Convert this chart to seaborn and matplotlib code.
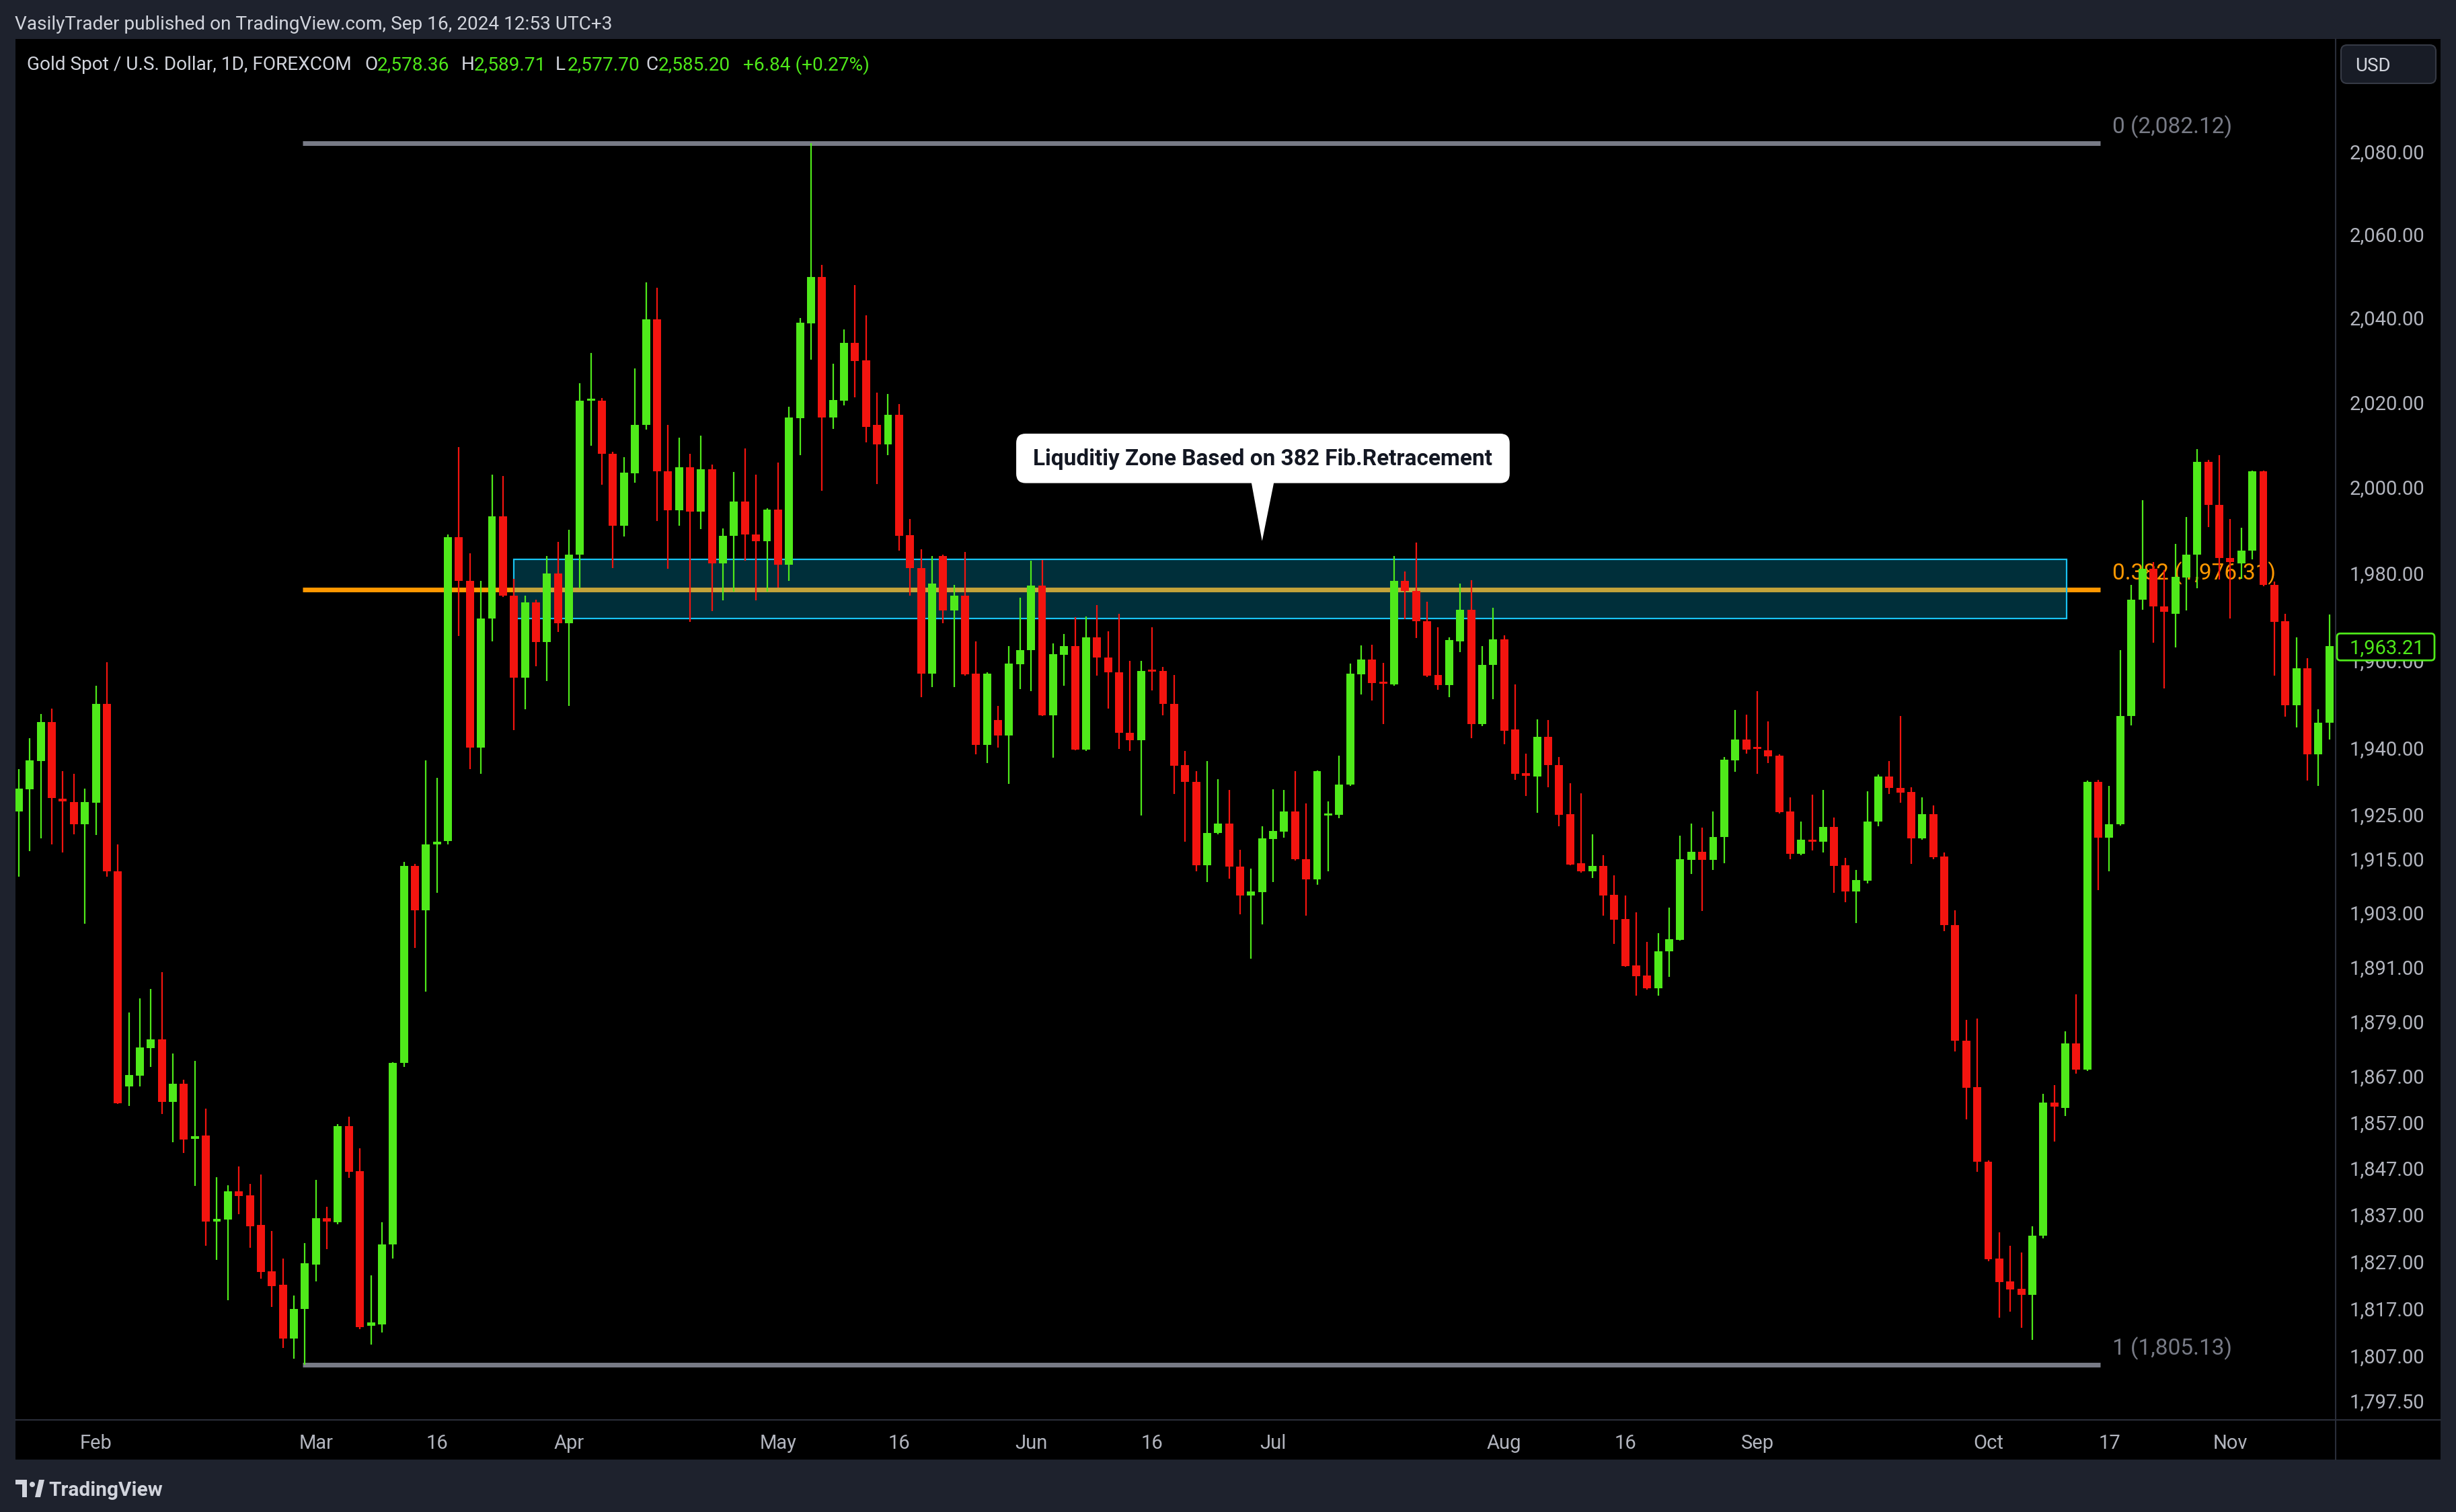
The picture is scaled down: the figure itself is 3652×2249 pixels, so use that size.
import numpy as np
import pandas as pd
import matplotlib
matplotlib.use("Agg")
import matplotlib.pyplot as plt
import seaborn as sns
from matplotlib.patches import Rectangle, FancyBboxPatch, Polygon, Circle
from matplotlib.ticker import FixedLocator, NullLocator, FuncFormatter
from matplotlib.lines import Line2D

# ---------------- data (Gold spot daily) ----------------
opens = [1925.7, 1930.6, 1937.0, 1945.9, 1928.5, 1927.8, 1922.8, 1927.7, 1950.1, 1912.3,
         1864.8, 1867.1, 1873.1, 1875.1, 1861.4, 1865.4, 1853.4, 1854.1, 1835.6, 1836.0,
         1842.1, 1841.2, 1834.8, 1824.9, 1822.0, 1810.6, 1816.9, 1826.4, 1836.3, 1835.4,
         1856.1, 1846.4, 1813.3, 1813.6, 1830.6, 1869.9, 1913.5, 1903.6, 1918.3, 1919.0,
         1988.4, 1978.3, 1940.1, 1969.6, 1993.3, 1974.8, 1956.0, 1973.3, 1964.2, 1980.0,
         1968.5, 1984.3, 2020.3, 2020.3, 2007.8, 1991.1, 2003.3, 2014.6, 2039.7, 2003.7,
         1994.7, 2004.7, 1994.4, 2004.3, 1982.3, 1988.7, 1996.7, 1989.1, 1987.5, 1994.8,
         1982.0, 2016.2, 2038.7, 2049.8, 2016.4, 2020.4, 2034.1, 2029.9, 2014.6, 2010.0,
         2017.0, 1988.8, 1981.3, 1957.0, 1984.0, 1971.4, 1974.9, 1957.0, 1940.7, 1946.3,
         1942.9, 1959.1, 1962.4, 1977.2, 1947.5, 1961.3, 1963.2, 1939.6, 1965.2, 1960.7,
         1957.2, 1943.5, 1941.7, 1957.8, 1957.6, 1950.0, 1936.1, 1932.4, 1913.6, 1920.8,
         1923.0, 1913.3, 1906.9, 1907.6, 1919.5, 1921.2, 1925.6, 1915.0, 1910.5, 1924.8,
         1924.9, 1931.7, 1956.8, 1960.2, 1955.1, 1954.5, 1978.3, 1976.0, 1969.0, 1956.6,
         1954.3, 1964.4, 1971.6, 1945.4, 1958.9, 1964.8, 1944.2, 1934.3, 1933.6, 1942.5,
         1936.2, 1925.0, 1914.0, 1912.2, 1913.5, 1907.0, 1901.6, 1891.3, 1889.1, 1886.3,
         1894.4, 1897.0, 1914.8, 1916.6, 1914.8, 1919.9, 1937.2, 1942.0, 1940.2, 1939.5,
         1938.2, 1925.6, 1916.1, 1919.3, 1918.8, 1922.2, 1913.6, 1907.7, 1910.2, 1923.4,
         1933.5, 1931.0, 1930.0, 1919.7, 1925.0, 1915.5, 1900.3, 1874.8, 1864.6, 1848.4,
         1827.7, 1822.7, 1821.2, 1819.9, 1832.5, 1861.2, 1860.1, 1874.1, 1868.5, 1932.3,
         1919.8, 1922.8, 1947.3, 1973.9, 1981.1, 1972.3, 1970.6, 1979.1, 1984.4, 2006.0,
         1995.9, 1983.6, 1982.3, 1985.3, 2003.7, 1977.4, 1968.9, 1949.8, 1958.2, 1938.6,
         1945.8]
highs = [1935.3, 1942.2, 1947.8, 1948.9, 1934.7, 1934.2, 1930.8, 1954.2, 1959.5, 1918.3,
         1881.0, 1884.1, 1886.1, 1889.9, 1871.9, 1866.3, 1870.4, 1860.0, 1845.1, 1843.4,
         1847.4, 1843.6, 1845.7, 1833.6, 1827.6, 1819.8, 1830.9, 1844.5, 1838.7, 1856.6,
         1858.2, 1851.4, 1824.0, 1835.4, 1870.0, 1914.3, 1913.9, 1937.2, 1933.2, 1989.0,
         2009.5, 1984.7, 1978.3, 2003.0, 2002.6, 1978.8, 1974.8, 1974.0, 1984.0, 1987.3,
         1990.1, 2024.5, 2031.7, 2021.0, 2008.3, 2007.1, 2028.0, 2048.5, 2047.2, 2014.7,
         2011.6, 2007.8, 2012.1, 2005.3, 1990.5, 2003.6, 2009.1, 2003.0, 1995.2, 2005.8,
         2019.0, 2040.0, 2082.1, 2052.7, 2029.1, 2037.2, 2047.8, 2040.7, 2022.2, 2022.0,
         2019.5, 1992.7, 1985.6, 1984.0, 1984.3, 1977.4, 1985.0, 1964.4, 1957.2, 1949.5,
         1963.2, 1974.4, 1982.9, 1983.1, 1963.8, 1966.0, 1969.9, 1970.1, 1972.7, 1966.7,
         1970.7, 1959.9, 1959.9, 1967.6, 1958.4, 1956.6, 1939.3, 1934.7, 1937.1, 1933.0,
         1930.5, 1917.0, 1912.8, 1922.4, 1930.6, 1930.5, 1934.7, 1927.5, 1934.9, 1928.0,
         1938.2, 1959.3, 1963.4, 1963.6, 1959.4, 1984.1, 1980.5, 1987.2, 1973.4, 1967.5,
         1965.3, 1977.7, 1978.5, 1963.3, 1972.1, 1965.7, 1954.5, 1938.7, 1946.5, 1946.4,
         1937.9, 1932.1, 1929.8, 1920.5, 1915.9, 1911.3, 1906.9, 1903.1, 1896.6, 1898.5,
         1904.2, 1920.2, 1923.0, 1922.1, 1925.7, 1937.9, 1948.7, 1947.6, 1953.0, 1946.0,
         1938.6, 1928.9, 1923.4, 1929.4, 1930.5, 1924.3, 1915.3, 1912.6, 1930.2, 1934.0,
         1937.1, 1947.2, 1931.2, 1928.8, 1927.0, 1916.5, 1903.6, 1879.4, 1879.6, 1848.7,
         1833.2, 1830.4, 1829.0, 1834.6, 1863.2, 1865.1, 1876.8, 1884.9, 1932.7, 1932.8,
         1931.4, 1962.4, 1977.4, 1997.0, 1982.6, 1980.7, 1986.9, 1993.1, 2009.0, 2006.5,
         2007.6, 1992.7, 1990.6, 2004.0, 2004.0, 1978.1, 1970.6, 1965.2, 1960.4, 1948.8,
         1970.5]
lows = [1911.1, 1916.8, 1919.6, 1918.3, 1916.4, 1920.5, 1900.5, 1920.4, 1911.0, 1860.9,
        1860.5, 1864.7, 1869.0, 1858.8, 1852.6, 1850.3, 1843.2, 1830.3, 1827.4, 1818.7,
        1837.1, 1830.0, 1823.3, 1817.4, 1808.6, 1806.4, 1805.13, 1822.8, 1829.7, 1835.0,
        1844.9, 1812.6, 1809.4, 1811.9, 1827.6, 1869.0, 1895.2, 1885.6, 1907.4, 1918.2,
        1965.6, 1935.2, 1934.1, 1964.4, 1974.5, 1944.0, 1948.8, 1958.6, 1955.2, 1966.5,
        1949.5, 1976.6, 2009.8, 2000.7, 1981.3, 1988.6, 2001.1, 2013.5, 1992.1, 1981.0,
        1991.1, 1968.8, 1990.3, 1971.3, 1973.8, 1975.8, 1983.0, 1973.8, 1975.8, 1976.7,
        1978.2, 2007.6, 2030.0, 1999.2, 2013.7, 2019.2, 2021.2, 2010.5, 2000.8, 2007.5,
        1985.2, 1974.8, 1951.6, 1953.8, 1968.5, 1953.9, 1956.4, 1938.5, 1936.6, 1940.1,
        1931.9, 1953.4, 1953.0, 1947.3, 1937.8, 1954.1, 1939.5, 1939.3, 1956.5, 1948.9,
        1939.8, 1939.4, 1924.7, 1953.1, 1947.5, 1929.6, 1918.8, 1912.2, 1909.9, 1920.6,
        1910.6, 1902.6, 1892.8, 1900.4, 1909.8, 1919.8, 1914.6, 1902.3, 1909.3, 1912.3,
        1924.2, 1931.5, 1952.2, 1950.8, 1945.5, 1954.2, 1969.5, 1965.1, 1956.2, 1953.2,
        1951.6, 1961.8, 1942.3, 1945.0, 1951.1, 1940.9, 1932.8, 1929.2, 1925.4, 1931.1,
        1922.4, 1913.6, 1911.9, 1910.7, 1902.4, 1896.1, 1891.0, 1884.7, 1886.0, 1884.6,
        1888.8, 1896.8, 1911.6, 1903.4, 1912.5, 1914.1, 1934.6, 1938.8, 1934.2, 1936.6,
        1925.2, 1914.9, 1915.8, 1916.9, 1916.5, 1907.4, 1905.4, 1900.7, 1909.6, 1922.4,
        1929.6, 1927.7, 1913.9, 1919.4, 1914.9, 1898.9, 1872.4, 1857.6, 1846.2, 1827.0,
        1815.1, 1816.4, 1812.9, 1810.4, 1832.0, 1852.8, 1858.4, 1867.6, 1868.2, 1908.1,
        1912.2, 1922.5, 1945.1, 1971.6, 1964.1, 1953.5, 1962.9, 1971.5, 1976.5, 1990.8,
        1978.6, 1969.6, 1978.7, 1983.2, 1977.0, 1956.5, 1947.1, 1944.6, 1932.7, 1931.5,
        1941.9]
closes = [1930.8, 1937.2, 1945.9, 1928.7, 1927.9, 1922.8, 1927.8, 1950.1, 1912.2, 1861.1,
          1867.2, 1873.3, 1875.1, 1861.4, 1865.4, 1853.2, 1854.0, 1835.5, 1836.1, 1842.1,
          1841.1, 1834.6, 1824.8, 1821.8, 1810.6, 1816.9, 1826.7, 1836.3, 1835.5, 1856.1,
          1846.3, 1813.1, 1814.0, 1830.6, 1869.9, 1913.5, 1903.6, 1918.3, 1918.9, 1988.4,
          1978.3, 1940.1, 1969.6, 1993.3, 1974.9, 1956.0, 1973.3, 1964.2, 1980.0, 1968.5,
          1984.3, 2020.3, 2020.8, 2007.8, 1991.1, 2003.4, 2014.6, 2039.7, 2003.7, 1994.7,
          2004.7, 1994.4, 2004.3, 1982.3, 1988.7, 1996.7, 1989.0, 1987.5, 1994.8, 1982.0,
          2016.4, 2038.9, 2049.8, 2016.4, 2020.6, 2034.1, 2029.8, 2014.2, 2010.0, 2017.0,
          1988.7, 1981.2, 1957.0, 1977.7, 1971.4, 1974.9, 1956.8, 1940.7, 1957.0, 1942.9,
          1959.2, 1962.4, 1977.2, 1947.5, 1961.4, 1963.2, 1939.6, 1965.2, 1960.7, 1957.2,
          1943.4, 1941.7, 1957.6, 1957.4, 1950.0, 1936.0, 1932.3, 1913.6, 1920.9, 1923.0,
          1913.3, 1906.9, 1907.8, 1919.6, 1921.3, 1925.6, 1915.0, 1910.5, 1934.7, 1925.2,
          1931.8, 1956.9, 1960.2, 1954.8, 1954.7, 1978.3, 1975.9, 1969.0, 1956.4, 1954.3,
          1964.6, 1971.6, 1945.4, 1958.9, 1964.8, 1943.9, 1934.2, 1933.7, 1942.5, 1936.1,
          1924.9, 1913.8, 1912.2, 1913.5, 1906.9, 1901.4, 1891.2, 1888.9, 1886.3, 1894.5,
          1897.1, 1914.9, 1916.6, 1914.8, 1920.0, 1937.3, 1942.0, 1939.7, 1939.8, 1938.1,
          1925.5, 1916.1, 1919.4, 1918.9, 1922.2, 1913.5, 1907.7, 1910.3, 1923.4, 1933.5,
          1931.0, 1929.9, 1919.7, 1925.0, 1915.4, 1900.3, 1874.7, 1864.5, 1848.4, 1827.5,
          1822.6, 1821.1, 1819.9, 1832.6, 1861.2, 1860.4, 1874.1, 1868.5, 1932.3, 1919.8,
          1922.8, 1947.3, 1973.9, 1981.1, 1972.3, 1971.2, 1979.2, 1984.4, 2006.0, 1995.9,
          1983.6, 1982.6, 1985.3, 2003.7, 1977.4, 1968.8, 1949.8, 1958.2, 1938.6, 1945.8,
          1963.21]

time_tick_pos = [7, 27, 38, 50, 69, 80, 92, 103, 114, 135, 146, 158, 179, 190, 201]
time_tick_labels = ["Feb", "Mar", "16", "Apr", "May", "16", "Jun", "16", "Jul",
                    "Aug", "16", "Sep", "Oct", "17", "Nov"]
price_ticks = [2080, 2060, 2040, 2020, 2000, 1980, 1960, 1940, 1925, 1915, 1903,
               1891, 1879, 1867, 1857, 1847, 1837, 1827, 1817, 1807, 1797.5]

fib_levels = [0.0, 0.382, 1.0]
fib_prices = [2082.12, 1976.31, 1805.13]
fib_colors = ["#787b86", "#ff9800", "#787b86"]
fib_span = [25.8, 189.2]
zone_span = [45.0, 186.1]
zone_prices = [1969.6, 1983.3]
last_close = 1963.21

callout_text = "Liquditiy Zone Based on 382 Fib.Retracement"
callout_box_x = [90.65, 135.5]
callout_box_y = [2001.0, 2012.6]
callout_tip = (113.0, 1987.5)

header_ohlc = ["2,578.36", "2,589.71", "2,577.70", "2,585.20"]
header_change = "+6.84 (+0.27%)"

# ---------------- styling ----------------
sns.set_theme(style="dark")
plt.rcParams["font.family"] = ["Roboto", "DejaVu Sans"]

W, H, DPI = 3652, 2249, 100
NAVY = "#1e222d"
GREEN = "#4fe91a"
RED = "#f3140f"
AXTXT = "#b2b5be"
LIGHT = "#d1d4dc"
SEP = "#2a2e39"

fig = plt.figure(figsize=(W / DPI, H / DPI), dpi=DPI, facecolor=NAVY)

def fx(px):
    return px / W

def fy(py):
    return 1 - py / H

# black chart panel
fig.add_artist(Rectangle((fx(23), fy(2171)), fx(3629 - 23), (2171 - 58) / H,
                         transform=fig.transFigure, fc="black", ec="none", zorder=0))

ax = fig.add_axes([fx(23), fy(2112), fx(3473 - 23), (2112 - 58) / H])
ax.set_facecolor("black")
ax.set_zorder(1)

df = pd.DataFrame({"open": opens, "high": highs, "low": lows, "close": closes})
df["x"] = np.arange(len(df))
df["up"] = df["close"] >= df["open"]
df["color"] = np.where(df["up"], GREEN, RED)
df["body_lo"] = df[["open", "close"]].min(axis=1)
df["body_h"] = (df["close"] - df["open"]).abs().clip(lower=0.3)

# fib lines with seaborn
fib_df = pd.DataFrame({
    "level": [str(l) for l in fib_levels for _ in range(2)],
    "x": fib_span * len(fib_levels),
    "price": [p for p in fib_prices for _ in range(2)],
})
sns.lineplot(data=fib_df, x="x", y="price", hue="level", estimator=None,
             palette=dict(zip([str(l) for l in fib_levels], fib_colors)),
             linewidth=5, legend=False, ax=ax, zorder=1, solid_capstyle="butt")

# liquidity zone
ax.add_patch(Rectangle((zone_span[0], zone_prices[0]), zone_span[1] - zone_span[0],
                       zone_prices[1] - zone_prices[0], fc=(0.0, 0.8, 1.0, 0.23),
                       ec="none", zorder=2))
ax.add_patch(Rectangle((zone_span[0], zone_prices[0]), zone_span[1] - zone_span[0],
                       zone_prices[1] - zone_prices[0], fc="none",
                       ec="#19c3f2", lw=1.6, zorder=2))

# fib labels
fib_texts = ["0 (2,082.12)", "0.382 (1,976.31)", "1 (1,805.13)"]
for t, p, c in zip(fib_texts, fib_prices, fib_colors):
    ax.annotate(t, xy=(fib_span[1], p), xytext=(13, 17), textcoords="offset points",
                ha="left", va="center", fontsize=24, color=c, zorder=2.5)

# candles
ax.vlines(df["x"], df["low"], df["high"], colors=df["color"], lw=1.6, zorder=3)
ax.bar(df["x"], df["body_h"], bottom=df["body_lo"], width=0.73, color=df["color"],
       linewidth=0, zorder=4)

ax.set_yscale("log")
ax.set_xlim(-0.306, 210.57)
ax.set_ylim(1793.5, 2107.6)
ax.set_xlabel("")
ax.set_ylabel("")
ax.yaxis.set_major_locator(FixedLocator(price_ticks))
ax.yaxis.set_minor_locator(NullLocator())
ax.yaxis.set_major_formatter(FuncFormatter(lambda v, p: f"{v:,.2f}"))
ax.yaxis.tick_right()
ax.tick_params(axis="y", length=0, pad=15, labelsize=21, labelcolor=AXTXT)
ax.set_xticks(time_tick_pos)
ax.set_xticklabels(time_tick_labels)
ax.tick_params(axis="x", length=0, pad=15, labelsize=21, labelcolor=AXTXT)
ax.grid(False)
for s in ax.spines.values():
    s.set_visible(False)

# callout (box drawn in display space from data anchors)
(bx0, by0) = ax.transData.transform((callout_box_x[0], callout_box_y[0]))
(bx1, by1) = ax.transData.transform((callout_box_x[1], callout_box_y[1]))
fig.add_artist(FancyBboxPatch((bx0, by0), bx1 - bx0, by1 - by0,
                              boxstyle="round,pad=0,rounding_size=14", transform=None,
                              fc="white", ec="none", zorder=6))
ax.add_patch(Polygon([(112.0, callout_box_y[0] + 0.5), (114.1, callout_box_y[0] + 0.5),
                      callout_tip], closed=True, fc="white", ec="none", zorder=6))
fig.text((bx0 + bx1) / 2 / W, (by0 + by1) / 2 / H - 1.5 / H, callout_text,
         ha="center", va="center", fontsize=24, fontweight="bold", color="#131722",
         zorder=7)

# separators
fig.add_artist(Line2D([fx(3473), fx(3473)], [fy(58), fy(2171)], color=SEP, lw=1.5,
                      transform=fig.transFigure, zorder=2))
fig.add_artist(Line2D([fx(23), fx(3629)], [fy(2112), fy(2112)], color=SEP, lw=1.5,
                      transform=fig.transFigure, zorder=2))

# current price label
ypix = ax.transData.transform((0, last_close))[1]
fig.add_artist(FancyBboxPatch((3475, ypix - 21), 145, 40,
                              boxstyle="round,pad=0,rounding_size=5",
                              transform=None, fc="black", ec=GREEN, lw=2, zorder=5))
fig.text(fx(3494), (ypix - 3) / H, f"{last_close:,.2f}", ha="left", va="center",
         fontsize=21, color=GREEN, zorder=6)

# USD box
fig.add_artist(FancyBboxPatch((3481, H - 124), 141, 57,
                              boxstyle="round,pad=0,rounding_size=9", transform=None,
                              fc="#181c26", ec="#363a45", lw=1.5, zorder=5))
fig.text(fx(3502), fy(99), "USD", ha="left", va="center", fontsize=20,
         color=LIGHT, zorder=6)

# header texts
fig.text(fx(22), fy(36), "VasilyTrader published on TradingView.com, Sep 16, 2024 12:53 UTC+3",
         ha="left", va="center", fontsize=20.2, color=LIGHT)
fig.text(fx(40), fy(97), "Gold Spot / U.S. Dollar, 1D, FOREXCOM", ha="left",
         va="center", fontsize=20.2, color=LIGHT, zorder=6)
for letter, lx, val, vx in zip("OHLC", [542, 686, 826, 960], header_ohlc,
                               [561, 705, 844, 979]):
    fig.text(fx(lx), fy(97), letter, ha="left", va="center", fontsize=20.2,
             color=LIGHT, zorder=6)
    fig.text(fx(vx), fy(97), val, ha="left", va="center", fontsize=20.2,
             color=GREEN, zorder=6)
fig.text(fx(1105), fy(97), header_change, ha="left", va="center", fontsize=20.2,
         color=GREEN, zorder=6)

# footer logo + text
fig.add_artist(Rectangle((23, H - 2208), 17, 7, transform=None, fc=LIGHT, ec="none", zorder=5))
fig.add_artist(Rectangle((33, H - 2227), 7, 22, transform=None, fc=LIGHT, ec="none", zorder=5))
fig.add_artist(Circle((48, H - 2208), 4, transform=None, fc=LIGHT, ec="none", zorder=5))
fig.add_artist(Polygon([(52, H - 2227), (58, H - 2201), (66, H - 2201), (60, H - 2227)],
                       closed=True, transform=None, fc=LIGHT, ec="none", zorder=5))
fig.text(fx(72), fy(2217), "TradingView", ha="left", va="center", fontsize=21.5,
         fontweight="semibold", color=LIGHT)

fig.savefig("out.png", dpi=DPI, facecolor=NAVY)
